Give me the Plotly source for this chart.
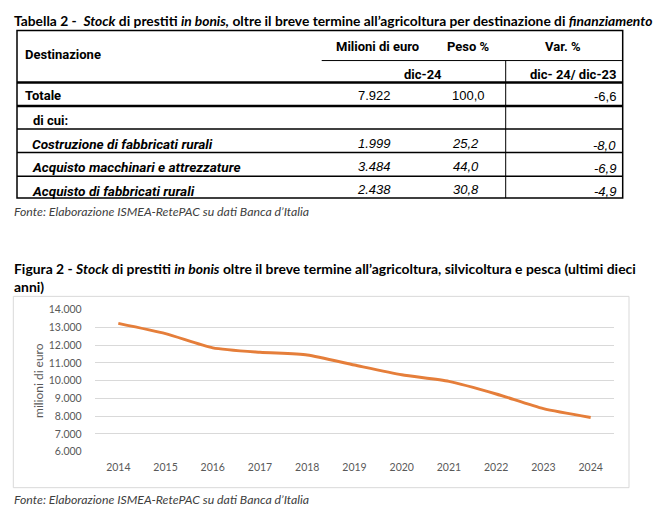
import plotly.graph_objects as go

# --- dati tabella 2 ---
destinazioni = ["Costruzione di fabbricati rurali",
                "Acquisto macchinari e attrezzature",
                "Acquisto di fabbricati rurali"]
milioni = [1999, 3484, 2438]
peso = [25.2, 44.0, 30.8]
var_pct = [-8.0, -6.9, -4.9]
totale_milioni = 7922
totale_peso = 100.0
totale_var = -6.6

# --- dati figura 2 ---
anni = ["2014", "2015", "2016", "2017", "2018", "2019",
        "2020", "2021", "2022", "2023", "2024"]
stock = [13230, 12650, 11850, 11600, 11450, 10880,
         10330, 9960, 9250, 8420, 7922]

# the page body has an 8px margin, so the figure starts at (8, 8) of the window
OFF = 8
W, H = 664 - OFF, 509 - OFF
TITLE_FONT = "Lato, 'Open Sans', sans-serif"
HEAD_FONT = "Roboto, 'Liberation Sans Narrow', sans-serif"
ARIAL = "'Liberation Sans', Arial, sans-serif"


def px(x):
    return (x - OFF) / W


def py(y):
    return 1 - (y - OFF) / H


def it_num(v):
    return f"{v:,}".replace(",", ".")


def it_dec(v):
    return f"{v:.1f}".replace(".", ",")


fig = go.Figure()
fig.add_trace(go.Scatter(x=anni, y=stock, mode="lines",
                         line={"color": "#E57E3A", "width": 3, "shape": "spline", "smoothing": 0.6},
                         hoverinfo="skip", showlegend=False))

shapes = []
annotations = []


def hline(y, x0, x1, w):
    shapes.append(dict(type="line", xref="paper", yref="paper", x0=px(x0), x1=px(x1),
                       y0=py(y), y1=py(y), line={"color": "black", "width": w}))


def text(x, y, s, anchor="left", size=12, family=HEAD_FONT, color="black"):
    annotations.append(dict(xref="paper", yref="paper", x=px(x), y=py(y), text=s,
                            showarrow=False, xanchor=anchor, yanchor="middle",
                            font={"family": family, "size": size, "color": color}))


# tabella
L, R, T, B = 17, 622.7, 25, 196.5
shapes.append(dict(type="rect", xref="paper", yref="paper", x0=px(L), x1=px(R), y0=py(B), y1=py(T),
                   line={"color": "black", "width": 1.5}))
hline(55.7, 321.7, R, 1)
hline(78.3, L, R, 2.5)
hline(102.3, L, R, 2.5)
for yy in [125.7, 150, 174.3]:
    hline(yy, L, R, 1.5)
shapes.append(dict(type="line", xref="paper", yref="paper", x0=px(505.7), x1=px(505.7),
                   y0=py(55.7), y1=py(B), line={"color": "black", "width": 1}))

text(11.5, 15, "<b>Tabella 2 -  <i>Stock</i> di prestiti <i>in bonis,</i> oltre il breve termine "
     "all’agricoltura per destinazione di <i>finanziamento</i></b>", size=13.8, family=TITLE_FONT)
text(23, 50, "<b>Destinazione</b>", size=13)
text(377.5, 41, "<b>Milioni di euro</b>", "center", 13)
text(468, 41, "<b>Peso %</b>", "center", 13)
text(563, 41, "<b>Var. %</b>", "center", 13)
text(422.5, 70, "<b>dic-24</b>", "center", 13)
text(618, 70, "<b>dic- 24/ dic-23</b>", "right", 13)

text(23, 91, "<b>Totale</b>", size=13)
text(374, 91, it_num(totale_milioni), "center", 13, ARIAL)
text(468, 91, it_dec(totale_peso), "center", 13, ARIAL)
text(618, 93, it_dec(totale_var), "right", 13, ARIAL)
text(31, 117, "<b>di cui:</b>", size=13)

row_y = [141.7, 165, 189]
for i, nome in enumerate(destinazioni):
    text(30, row_y[i], f"<b><i>{nome}</i></b>", size=13.6)
    text(374, row_y[i] - 1, f"<i>{it_num(milioni[i])}</i>", "center", 13, ARIAL)
    text(466, row_y[i] - 1, f"<i>{it_dec(peso[i])}</i>", "center", 13, ARIAL)
    text(618, row_y[i] + 1, f"<i>{it_dec(var_pct[i])}</i>", "right", 13, ARIAL)

text(12, 210, "<i>Fonte: Elaborazione ISMEA-RetePAC su dati Banca d’Italia</i>", size=12.3,
     family=TITLE_FONT, color="#404040")

# figura
text(12, 268.3, "<b>Figura 2 - <i>Stock</i> di prestiti <i>in bonis</i> oltre il breve termine "
     "all’agricoltura, silvicoltura e pesca (ultimi dieci</b>", size=13.9, family=TITLE_FONT)
text(12, 286.7, "<b>anni)</b>", size=13.9, family=TITLE_FONT)
shapes.append(dict(type="rect", xref="paper", yref="paper", x0=px(13.3), x1=px(629),
                   y0=py(493.3), y1=py(297.3), line={"color": "#D9D9D9", "width": 1}))
annotations.append(dict(xref="paper", yref="paper", x=px(39), y=py(384), text="milioni di euro",
                        textangle=-90, showarrow=False, xanchor="center", yanchor="middle",
                        font={"family": TITLE_FONT, "size": 12, "color": "#595959"}))
text(12, 505, "<i>Fonte: Elaborazione ISMEA-RetePAC su dati Banca d’Italia</i>", size=12.3,
     family=TITLE_FONT, color="#404040")

fig.update_layout(
    width=W, height=H,
    margin=dict(l=0, r=0, t=0, b=0),
    paper_bgcolor="white", plot_bgcolor="white",
    separators=",.",
    shapes=shapes, annotations=annotations,
    xaxis=dict(domain=[px(94.7), px(614.3)], range=[-0.5, 10.5], showgrid=False, zeroline=False,
               showline=False, ticks="", ticklabelstandoff=8,
               tickfont={"family": TITLE_FONT, "size": 10.5, "color": "#595959"}),
    yaxis=dict(domain=[py(456.3), py(311)], range=[6000, 14000], dtick=1000, tickformat=",d",
               showgrid=True, gridcolor="#D9D9D9", gridwidth=1, zeroline=False, showline=False,
               ticks="", ticklabelstandoff=12,
               tickfont={"family": TITLE_FONT, "size": 10.5, "color": "#595959"}),
)

fig.write_html("out.html")
